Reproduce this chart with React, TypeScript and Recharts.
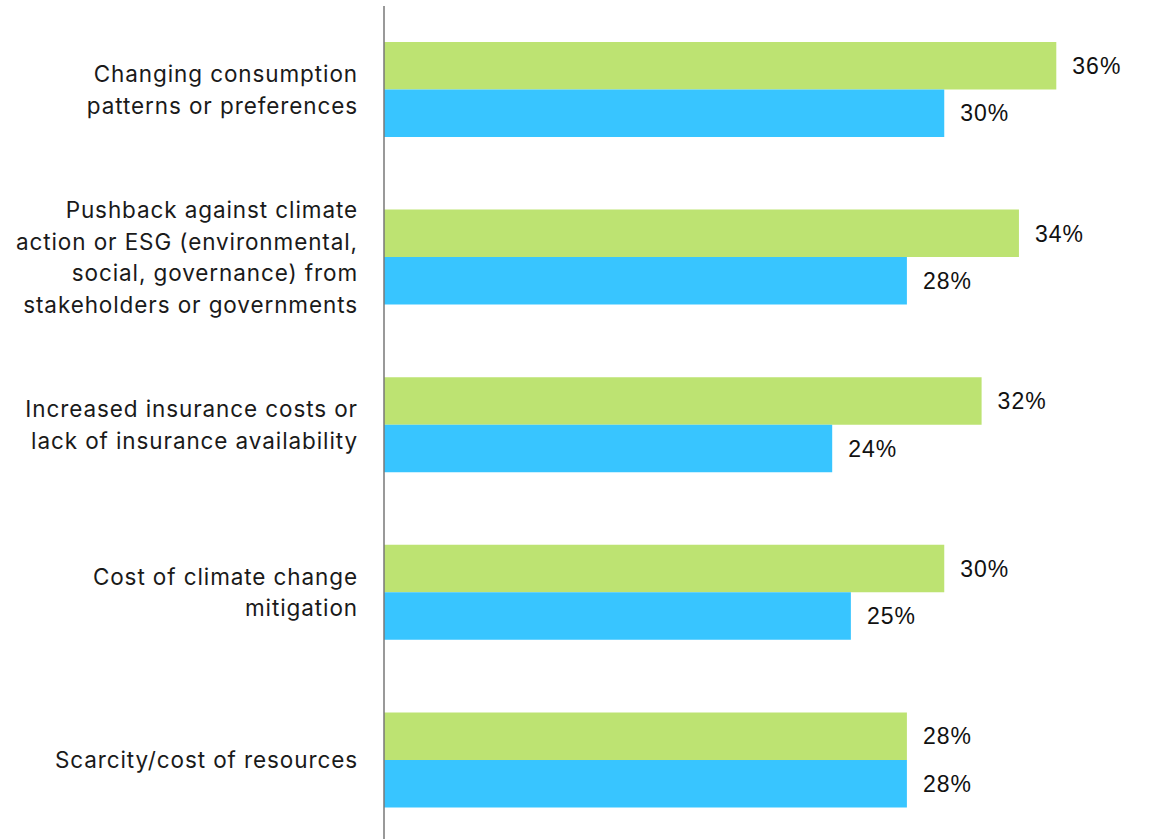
import * as React from "react";
import { Bar, BarChart, LabelList, XAxis, YAxis } from "recharts";

// Horizontal grouped bars, two series per risk, percent labels at the bar ends.
const categories = [
  "Changing consumption\npatterns or preferences",
  "Pushback against climate\naction or ESG (environmental,\nsocial, governance) from\nstakeholders or governments",
  "Increased insurance costs or\nlack of insurance availability",
  "Cost of climate change\nmitigation",
  "Scarcity/cost of resources",
];
const greenValues = [36, 34, 32, 30, 28];
const blueValues = [30, 28, 24, 25, 28];

const GREEN = "#bde372";
const BLUE = "#38c5ff";
const AXIS = "#777777";
const LABEL_FONT = "Inter, 'Open Sans', sans-serif";
const VALUE_FONT = "'Liberation Sans', Arial, sans-serif";

const data = categories.map((name, i) => ({ name, green: greenValues[i], blue: blueValues[i] }));

function CategoryTick(props: { x?: number; y?: number; payload?: { value: string } }) {
  const { x = 0, y = 0, payload } = props;
  const lines = String(payload?.value ?? "").split("\n");
  const lh = 31.5;
  const start = y - ((lines.length - 1) * lh) / 2;
  return (
    <text
      x={x}
      y={start}
      textAnchor="end"
      fill="#1a1a1a"
      fontFamily={LABEL_FONT}
      fontSize={22.5}
      letterSpacing={0.9}
    >
      {lines.map((l, i) => (
        <tspan key={i} x={x} y={start + i * lh} dy="0.36em">
          {l}
        </tspan>
      ))}
    </text>
  );
}

const valueStyle = { fill: "#111", fontFamily: VALUE_FONT, fontSize: 23, letterSpacing: 1 };

export default function App() {
  return (
    <div style={{ position: "absolute", left: 0, top: 0, width: 1152, height: 839, overflow: "hidden", background: "#fff" }}>
      <BarChart
        width={1152}
        height={844}
        data={data}
        layout="vertical"
        margin={{ top: 6, right: 21, left: 0, bottom: 0 }}
        barGap={0}
      >
        <XAxis type="number" domain={[0, 40]} hide />
        <YAxis
          type="category"
          dataKey="name"
          width={384}
          axisLine={{ stroke: AXIS, strokeWidth: 1.5 }}
          tickLine={false}
          tick={<CategoryTick />}
          tickMargin={20}
        />
        <Bar dataKey="green" fill={GREEN} barSize={47.5} isAnimationActive={false}>
          <LabelList dataKey="green" position="right" offset={16} formatter={(v: unknown) => `${v}%`} style={valueStyle} />
        </Bar>
        <Bar dataKey="blue" fill={BLUE} barSize={47.5} isAnimationActive={false}>
          <LabelList dataKey="blue" position="right" offset={16} formatter={(v: unknown) => `${v}%`} style={valueStyle} />
        </Bar>
      </BarChart>
    </div>
  );
}
